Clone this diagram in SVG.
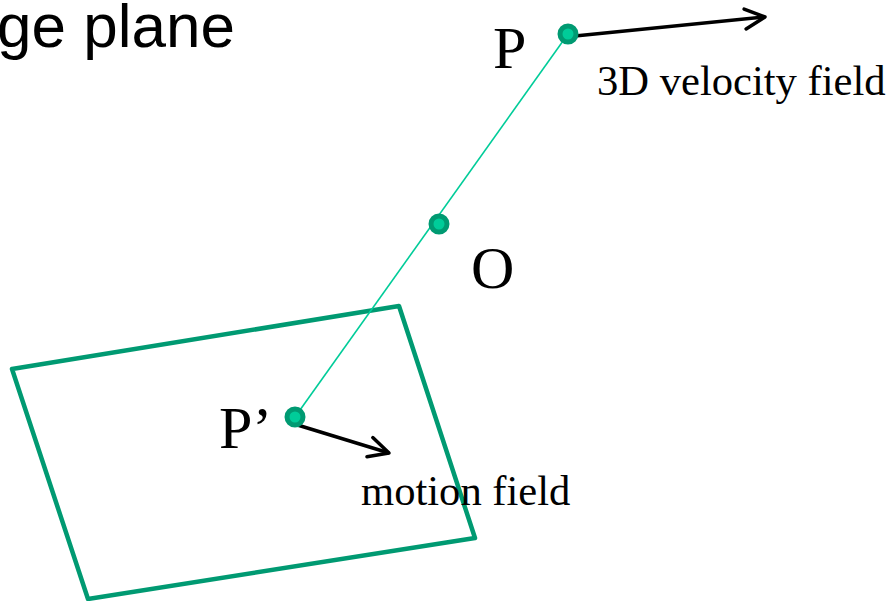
<svg xmlns="http://www.w3.org/2000/svg" width="890" height="601" viewBox="0 0 890 601">
<defs>
<style>
.serif{font-family:"Liberation Serif","Times New Roman",serif;fill:#000}
.big{font-size:60px}
.small{font-size:42.6px}
.dot{fill:#00CC99;stroke:#009A72;stroke-width:5}
.arrow{stroke:#000;stroke-width:3.5;fill:none}
</style>
<marker id="chev" markerUnits="userSpaceOnUse" viewBox="-24 -14 28 28" refX="0" refY="0" markerWidth="28" markerHeight="28" orient="auto">
<path d="M-20,-10 L0,0 L-20,10" fill="none" stroke="#000" stroke-width="3.5" stroke-linecap="round" stroke-linejoin="round"/>
</marker>
</defs>
<rect width="890" height="601" fill="#fff"/>
<text x="-3" y="47" font-family="'Liberation Sans',Arial,sans-serif" font-size="62" fill="#000">ge plane</text>
<g id="image-plane">
<polygon points="12,369 399,306 475,538 88,599" fill="none" stroke="#009A72" stroke-width="4.5" stroke-linejoin="round"/>
</g>
<g id="connectors">
<line x1="568" y1="34" x2="295" y2="417" stroke="#00CC99" stroke-width="1.6"/>
<line class="arrow" x1="575" y1="36" x2="765" y2="17" marker-end="url(#chev)"/>
<line class="arrow" x1="291" y1="423" x2="389" y2="453" marker-end="url(#chev)"/>
</g>
<g id="P">
<circle class="dot" cx="568" cy="34" r="8"/>
<text class="serif big" x="493" y="68">P</text>
</g>
<g id="O">
<circle class="dot" cx="439" cy="224" r="8"/>
<text class="serif big" x="471" y="288">O</text>
</g>
<g id="Pprime">
<circle class="dot" cx="295" cy="417" r="8"/>
<text class="serif big" x="219" y="448">P’</text>
</g>
<g id="labels">
<text class="serif small" x="597" y="95">3D velocity field</text>
<text class="serif small" x="361" y="505">motion field</text>
</g>
</svg>
